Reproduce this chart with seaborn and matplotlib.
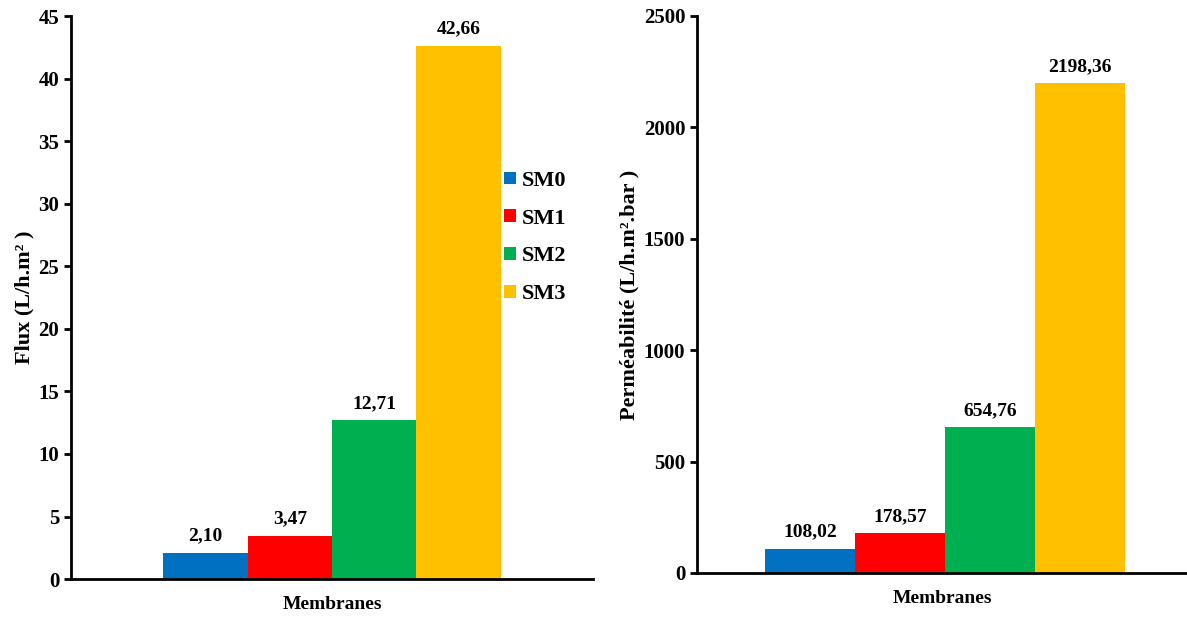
import matplotlib
matplotlib.use("Agg")
import matplotlib.pyplot as plt
import seaborn as sns
import pandas as pd

membranes = ["SM0", "SM1", "SM2", "SM3"]
flux = [2.10, 3.47, 12.71, 42.66]
permeabilite = [108.02, 178.57, 654.76, 2198.36]
colors = ["#0070C0", "#FF0000", "#00B050", "#FFC000"]

sns.set_theme(style="white")
plt.rcParams["font.family"] = ["Liberation Serif", "DejaVu Serif"]
plt.rcParams["font.weight"] = "bold"

df = pd.DataFrame({
    "Membrane": membranes,
    "cat": ["Membranes"] * 4,
    "Flux": flux,
    "Perm": permeabilite,
})

fig = plt.figure(figsize=(11.87, 6.21), dpi=100)
ax1 = fig.add_axes([0.0598, 0.0676, 0.4398, 0.906])
ax2 = fig.add_axes([0.5872, 0.0773, 0.4128, 0.897])


def fmt(v):
    return f"{v:.2f}".replace(".", ",")


def style_axis(ax, ylabel, ymax, step):
    for side in ["top", "right"]:
        ax.spines[side].set_visible(False)
    for side in ["left", "bottom"]:
        ax.spines[side].set_color("black")
        ax.spines[side].set_linewidth(2)
    ax.set_ylim(0, ymax)
    ax.set_yticks(range(0, ymax + 1, step))
    ax.tick_params(axis="y", which="both", left=True, length=5, width=2,
                   labelsize=15, color="black", labelcolor="black")
    for lab in ax.get_yticklabels():
        lab.set_fontweight("bold")
    ax.set_xticks([])
    ax.set_xlabel("Membranes", fontsize=14, fontweight="bold", labelpad=12,
                  color="black")
    ax.set_ylabel(ylabel, fontsize=16, fontweight="bold", labelpad=3,
                  color="black")


sns.barplot(data=df, x="cat", y="Flux", hue="Membrane", palette=colors,
            width=0.8, saturation=1, linewidth=0, ax=ax1, legend=True)
sns.barplot(data=df, x="cat", y="Perm", hue="Membrane", palette=colors,
            width=0.8, saturation=1, linewidth=0, ax=ax2, legend=False)

for ax, vals in [(ax1, flux), (ax2, permeabilite)]:
    for cont, v in zip(ax.containers, vals):
        ax.bar_label(cont, labels=[fmt(v)], padding=6, fontsize=14,
                     fontweight="bold", color="black")

style_axis(ax1, "Flux (L/h.m² )", 45, 5)
style_axis(ax2, "Perméabilité (L/h.m².bar )", 2500, 500)
ax1.set_xlim(-0.618, 0.618)
ax2.set_xlim(-0.551, 0.538)

leg = ax1.legend(loc="center", bbox_to_anchor=(0.89, 0.607), frameon=False,
                 fontsize=16, handlelength=0.5, handleheight=0.5,
                 handletextpad=0.3, labelspacing=0.8, title=None)
for t in leg.get_texts():
    t.set_fontweight("bold")
    t.set_color("black")

fig.savefig("out.png", dpi=100)
